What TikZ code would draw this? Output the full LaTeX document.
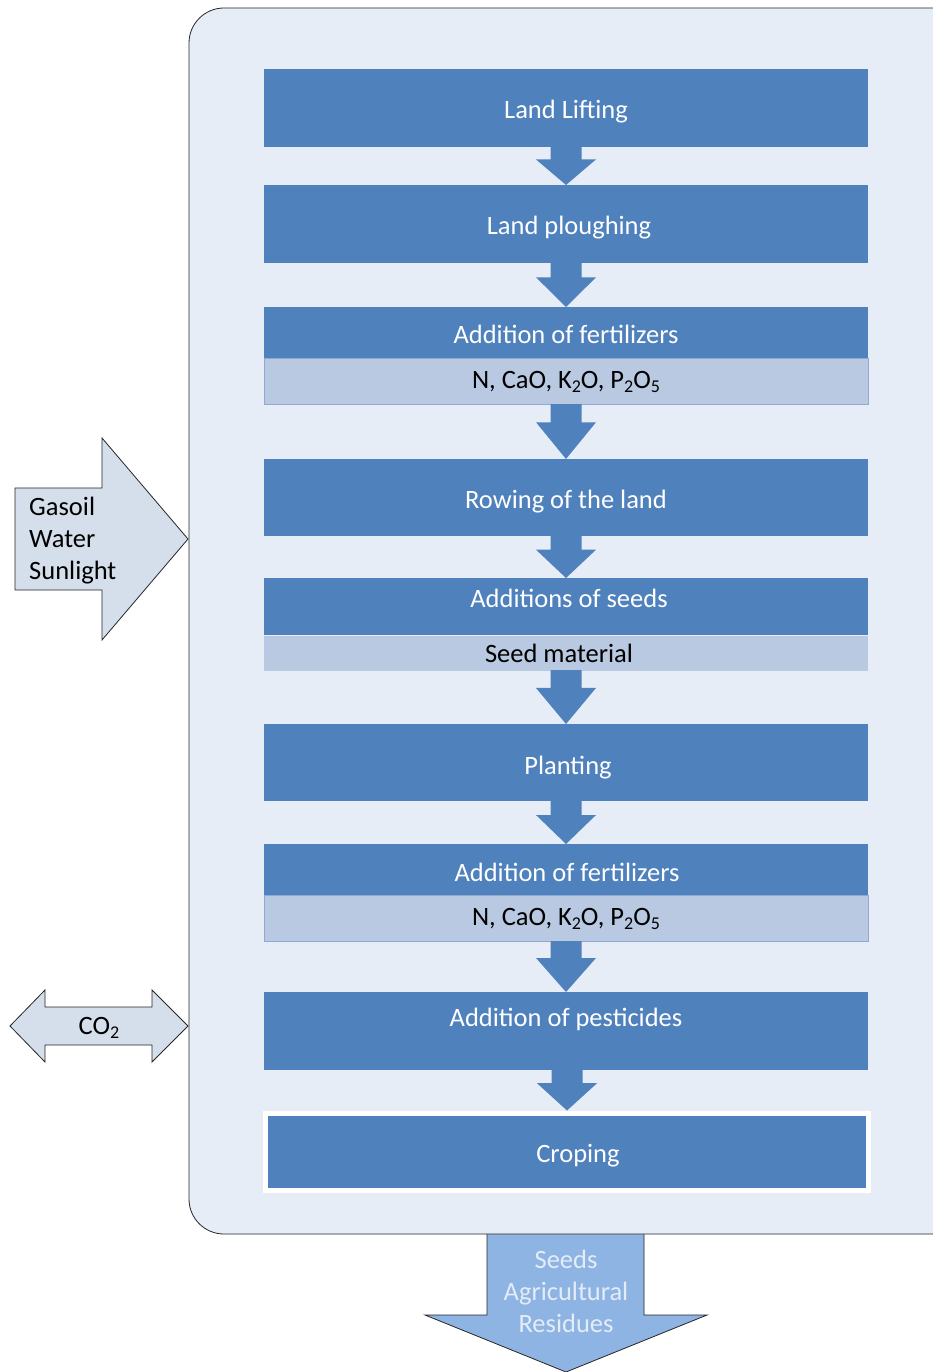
\documentclass[tikz,border=0pt]{standalone}
\usepackage{fontspec}
\setmainfont{Carlito}
\usetikzlibrary{calc}
\definecolor{bgpanel}{HTML}{E6EDF7}
\definecolor{stepblue}{HTML}{4F81BD}
\definecolor{bandblue}{HTML}{B9C9E1}
\definecolor{bandedge}{HTML}{8EA9D4}
\definecolor{inarrow}{HTML}{D5DFEC}
\definecolor{outarrow}{HTML}{8EB4E3}
\definecolor{outtext}{HTML}{E4ECF7}
\newcommand\chemsub[1]{\raisebox{-0.35ex}{\fontsize{18}{18}\selectfont #1}}
\newcommand\flowarrow[2]{%
  \fill[stepblue] let \p1=(#1.south), \p2=(#2.north), \p3=($(#1.south)!0.32!(#2.north)$) in
    (\x2-15.5pt,\y1+1pt) -- (\x2+15.5pt,\y1+1pt) -- (\x2+15.5pt,\y3) -- (\x2+30pt,\y3)
    -- (\x2,\y2) -- (\x2-30pt,\y3) -- (\x2-15.5pt,\y3) -- cycle;}
\begin{document}
\begin{tikzpicture}[x=1pt,y=-1pt,
  txt/.style={font=\fontsize{26.5}{32}\selectfont},
  stepbox/.style={txt, fill=stepblue, text=white, minimum width=604pt, inner sep=0pt, anchor=north, text height=27pt, text depth=6pt},
  bandbox/.style={txt, fill=bandblue, draw=bandedge, line width=0.6pt, text=black, minimum width=604pt, inner sep=0pt, anchor=north},
  sidetext/.style={txt, align=left, anchor=west, inner sep=0pt},
  outline/.style={draw=black!85, line width=0.8pt}]
\useasboundingbox (0,0) rectangle (933,1372);
\fill[white] (0,0) rectangle (933,1372);
% bottom output arrow
\fill[outarrow] (487,1230) -- (644,1230) -- (644,1315) -- (707,1315) -- (566,1372) -- (425,1315) -- (487,1315) -- cycle;
\draw[outline] (644,1234) -- (644,1315) -- (707,1315) -- (566,1372) -- (425,1315) -- (487,1315) -- (487,1234);
% panel
\draw[outline, fill=bgpanel, rounded corners=35pt] (189,8) rectangle (990,1234);
% steps
\node[stepbox, minimum height=78pt] (s1) at (566,69) {Land Lifting};
\node[stepbox, minimum height=78pt] (s2) at (566,185) {\hspace*{6pt}Land ploughing};
\node[stepbox, minimum height=51pt, text height=28pt] (s3) at (566,307) {Addition of fertilizers};
\node[bandbox, minimum height=46pt] (s3b) at (s3.south) {N, CaO, K\chemsub{2}O, P\chemsub{2}O\chemsub{5}};
\node[stepbox, minimum height=77pt] (s4) at (566,459) {Rowing of the land};
\node[stepbox, minimum height=57pt, text depth=25pt] (s5) at (566,578) {\hspace*{6pt}Additions of seeds};
\node[bandbox, draw=none, minimum height=35pt] (s5b) at (s5.south) {\hspace*{-14pt}Seed material};
\node[stepbox, minimum height=77pt, text height=30pt] (s6) at (566,724) {\hspace*{4pt}Planting};
\node[stepbox, minimum height=51pt, text height=30pt] (s7) at (566,844) {\hspace*{2pt}Addition of fertilizers};
\node[bandbox, minimum height=46pt] (s7b) at (s7.south) {N, CaO, K\chemsub{2}O, P\chemsub{2}O\chemsub{5}};
\node[stepbox, minimum height=78pt, text depth=37pt] (s8) at (566,992) {Addition of pesticides};
\node[stepbox, draw=white, line width=5pt, minimum width=603pt, minimum height=77pt] (s9) at (567,1110.5) {\hspace*{22pt}Croping};
% flow arrows
\flowarrow{s1}{s2}
\flowarrow{s2}{s3}
\flowarrow{s3b}{s4}
\flowarrow{s4}{s5}
\flowarrow{s5b}{s6}
\flowarrow{s6}{s7}
\flowarrow{s7b}{s8}
\flowarrow{s8}{s9}
% input arrow
\draw[outline, fill=inarrow] (15,488) -- (102,488) -- (102,438) -- (188,539) -- (102,640) -- (102,590) -- (15,590) -- cycle;
\node[sidetext] (inputs) at (29,541) {Gasoil\\Water\\Sunlight};
% CO2 double arrow
\draw[outline, fill=inarrow] (10,1026) -- (45,990) -- (45,1007) -- (152,1007) -- (152,990) -- (188,1026) -- (152,1062) -- (152,1045) -- (45,1045) -- (45,1062) -- cycle;
\node[txt, inner sep=0pt] (co2) at (99,1028) {CO\chemsub{2}};
% output text
\node[txt, text=outtext, align=center, inner sep=0pt] (outputs) at (566,1291) {Seeds\\Agricultural\\Residues};
\end{tikzpicture}
\end{document}
